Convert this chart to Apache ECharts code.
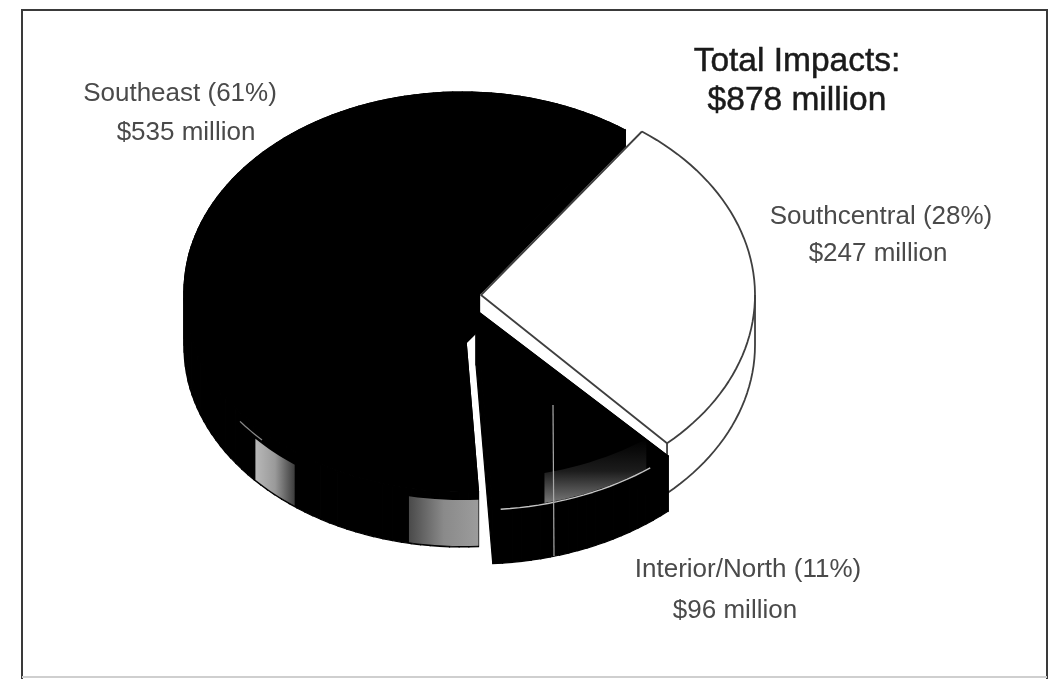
<!DOCTYPE html>
<html>
<head>
<meta charset="utf-8">
<style>html,body{margin:0;padding:0;background:#fff}#chart{width:1050px;height:679px}</style>
<script src="https://cdn.jsdelivr.net/npm/echarts@6/dist/echarts.min.js"></script>
</head>
<body>
<div id="chart"></div>
<script>
// Regional impacts, millions of dollars; later entries sit in front of earlier ones.
const regions = ['Southeast', 'Southcentral', 'Interior/North'];
const impacts = [535, 247, 96];
const shares = [61, 28, 11];
const totalImpacts = 878;

const FONT = '"Liberation Sans", Arial, sans-serif';
const firstSliceStart = -183.4;   // degrees clockwise from twelve o'clock
const DEPTH = [55, 50, 55];
const geometry = [
  { cx: 462, cy: 292, a: 278, b: 200 },
  { cx: 481, cy: 295, a: 274, b: 202 },
  { cx: 476, cy: 310, a: 283, b: 199 }
];
const faceFill = ['#000', '#fff', '#000'];

const sum = impacts.reduce((s, v) => s + v, 0);

function sliceRange(i) {
  let start = firstSliceStart;
  for (let k = 0; k < i; k++) start += impacts[k] / sum * 360;
  return [start, start + impacts[i] / sum * 360];
}
function onRim(g, deg, drop) {
  const t = deg * Math.PI / 180;
  return [g.cx + g.a * Math.sin(t), g.cy - g.b * Math.cos(t) + (drop || 0)];
}
function rim(g, from, to, drop) {
  const n = Math.max(8, Math.ceil(Math.abs(to - from) / 2));
  const pts = [];
  for (let k = 0; k <= n; k++) pts.push(onRim(g, from + (to - from) * k / n, drop));
  return pts;
}
function poly(points, style) {
  return { type: 'polygon', shape: { points }, style };
}
function trace(points, stroke, lineWidth) {
  return { type: 'polyline', shape: { points }, style: { fill: 'none', stroke, lineWidth, lineJoin: 'round' } };
}
function gradient(x2, y2, stops) {
  return { type: 'linear', x: 0, y: 0, x2, y2,
    colorStops: stops.map((c, i) => ({ offset: i / (stops.length - 1), color: c })) };
}
function wallPatch(g, from, to, top, bottom, fill) {
  return poly(rim(g, from, to, top).concat(rim(g, to, from, bottom)), { fill });
}

function renderSlice(params) {
  const i = params.dataIndex;
  const g = geometry[i], d = DEPTH[i];
  const [from, to] = sliceRange(i);
  const apex = [g.cx, g.cy];
  const arc = rim(g, from, to);
  const last = arc[arc.length - 1];
  const fill = faceFill[i];
  const seam = { fill, stroke: fill, lineWidth: 1.2 };
  const down = p => [p[0], p[1] + d];
  const children = [];

  // Rim wall, one quad per step so the vertical tangents stay filled.
  for (let k = 0; k < arc.length - 1; k++) {
    children.push(poly([arc[k], arc[k + 1], down(arc[k + 1]), down(arc[k])], seam));
  }
  // Cut faces, then the top face; the shared stroke closes hairlines between them.
  children.push(poly([apex, arc[0], down(arc[0]), down(apex)], seam));
  children.push(poly([apex, last, down(last), down(apex)], seam));
  children.push(poly([apex].concat(arc), seam));

  if (i === 0) {
    children.push(wallPatch(g, 217, 228, 13, 54, gradient(1, 0, ['#b8b8b8', '#9a9a9a', '#3c3c3c'])));
    children.push(trace(rim(g, 226, 233, 9), '#8a8a8a', 1.2));
    children.push(wallPatch(g, 176.6, 191, 8, 54, gradient(1, 0, ['#4a4a4a', '#8a8a8a', '#9c9c9c'])));
  }
  if (i === 1) {
    const edge = '#3f3f3f';
    children.push(trace([onRim(g, 90)].concat(rim(g, 90, to, d)), edge, 1.8));
    children.push(trace([down(last), last], edge, 1.8));
    children.push(trace([arc[0], apex, last].concat(arc.slice().reverse()), edge, 1.8));
  }
  if (i === 2) {
    children.push(poly(rim(g, 143, 166, -30).concat(rim(g, 166, 143, 0)),
      { fill: gradient(0, 1, ['#000', '#1c1c1c', '#777']) }));
    children.push(trace(rim(g, 142, 175, 1), '#c4c4c4', 1.4));
    children.push({ type: 'line', shape: { x1: 553, y1: 405, x2: 554, y2: 556 },
      style: { stroke: '#a8a8a8', lineWidth: 1.2 } });
  }
  return { type: 'group', children };
}

function text(str, x, y, size, color, strokeWidth) {
  return { type: 'text', x, y, style: { text: str, fontFamily: FONT, fontSize: size,
    fill: color, stroke: strokeWidth ? color : null, lineWidth: strokeWidth || 0,
    align: 'center', verticalAlign: 'middle' } };
}
const labelSpots = [[180, 94, 186, 133], [881, 217, 878, 254], [748, 570, 735, 611]];
const labelTexts = [];
regions.forEach((r, i) => {
  const [x1, y1, x2, y2] = labelSpots[i];
  labelTexts.push(text(`${r} (${shares[i]}%)`, x1, y1, 26, '#4a4a4a'));
  labelTexts.push(text(`$${impacts[i]} million`, x2, y2, 26, '#4a4a4a'));
});

const chart = echarts.init(document.getElementById('chart'));
chart.setOption({
  animation: false,
  backgroundColor: '#fff',
  graphic: [
    { type: 'polyline', shape: { points: [[22, 679], [22, 10], [1047, 10], [1047, 679]] },
      style: { fill: 'none', stroke: '#3a3a3a', lineWidth: 2 } },
    { type: 'line', shape: { x1: 22, y1: 677, x2: 1047, y2: 677 },
      style: { stroke: '#cfcfcf', lineWidth: 2 } },
    text('Total Impacts:', 797, 62, 33.5, '#1a1a1a', 0.5),
    text(`$${totalImpacts} million`, 797, 101, 33.5, '#1a1a1a', 0.5)
  ].concat(labelTexts),
  series: [{
    type: 'custom',
    coordinateSystem: 'none',
    renderItem: renderSlice,
    silent: true,
    data: regions.map((name, i) => ({ name, value: [impacts[i]] }))
  }]
});
</script>
</body>
</html>
